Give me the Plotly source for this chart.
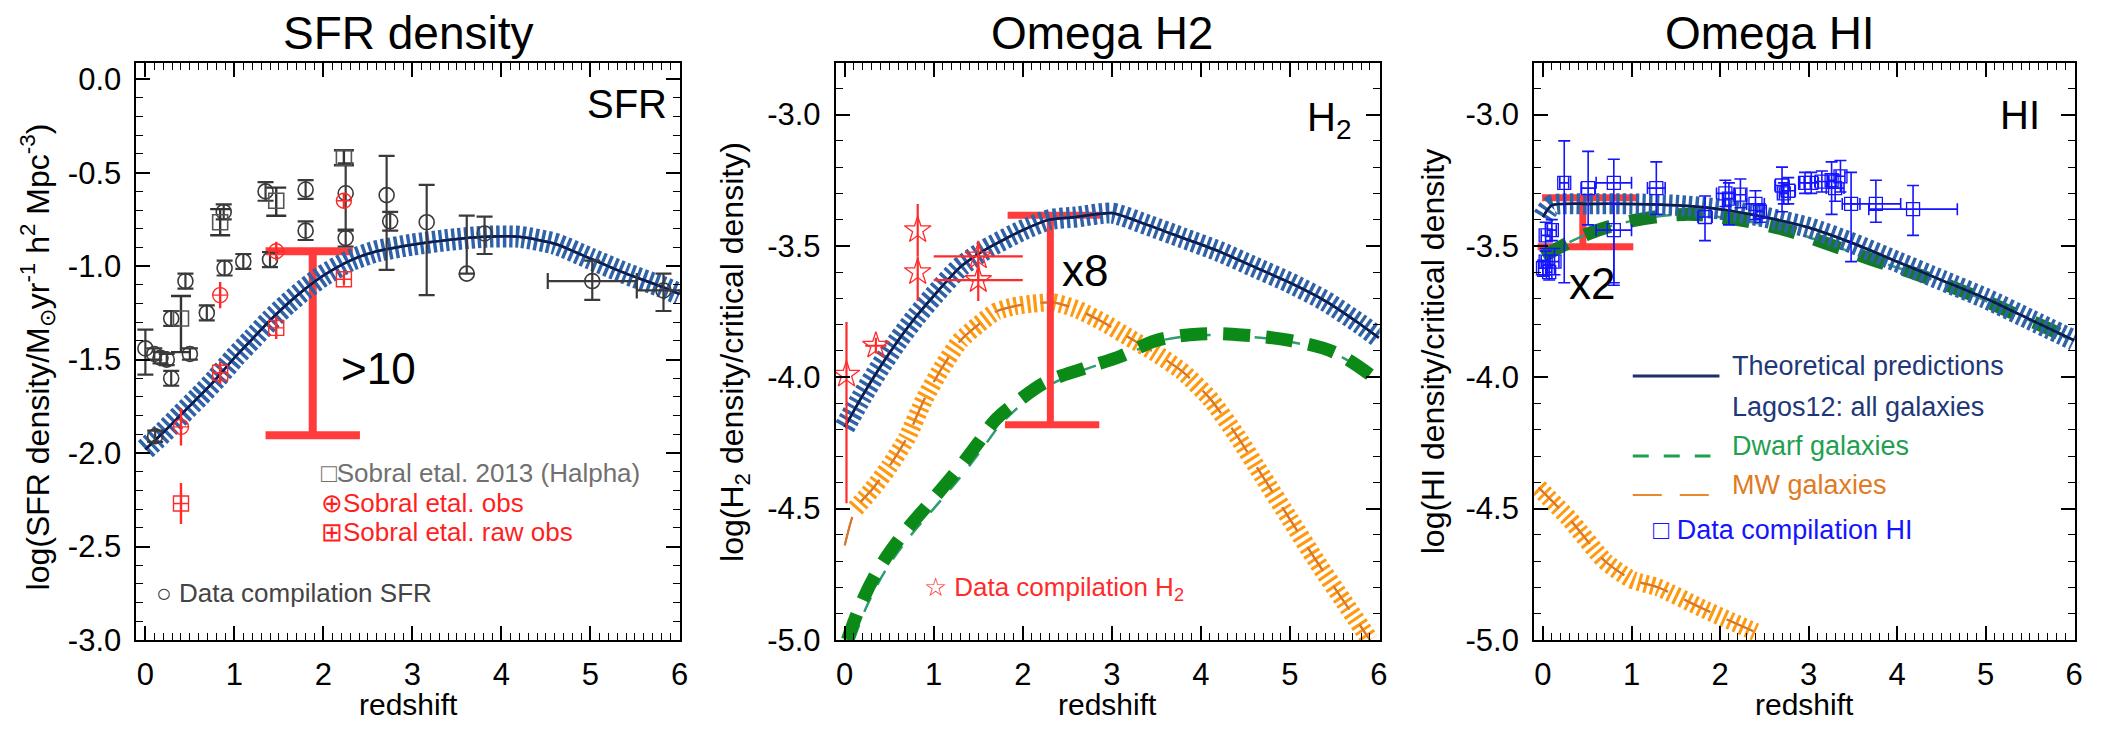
import numpy as np
import plotly.graph_objects as go

W, H = 2103, 736
FONT = "Liberation Sans, Arial, Helvetica, sans-serif"

# ======================= SFR density panel =======================
sfr_model_z = [0.0, 0.2, 0.4, 0.6, 0.8, 1.0, 1.2, 1.4, 1.6, 1.8, 2.0, 2.3, 2.6, 3.0, 3.4, 3.8, 4.2, 4.6, 5.0, 5.4, 5.8, 6.0]
sfr_model_v = [-1.98, -1.89, -1.795, -1.70, -1.60, -1.49, -1.39, -1.29, -1.20, -1.12, -1.05, -0.97, -0.92, -0.885, -0.86, -0.843, -0.843, -0.88, -0.96, -1.04, -1.11, -1.15]

comp_sfr_z = [0.00, 0.10, 0.17, 0.24, 0.29, 0.29, 0.11, 0.45, 0.50, 0.69, 0.88, 0.89, 1.10, 1.35, 1.40, 1.80, 1.80, 2.25, 2.25, 2.71, 2.75, 3.16, 3.61, 3.81]
comp_sfr_v = [-1.44, -1.47, -1.49, -1.50, -1.28, -1.60, -1.91, -1.08, -1.47, -1.25, -0.71, -1.01, -0.975, -0.60, -0.965, -0.59, -0.81, -0.61, -0.85, -0.62, -0.76, -0.765, -1.04, -0.825]
comp_sfr_eu = [0.10, 0.03, 0.03, 0.03, 0.04, 0.04, 0.03, 0.04, 0.03, 0.04, 0.04, 0.04, 0.04, 0.05, 0.04, 0.05, 0.05, 0.16, 0.045, 0.21, 0.05, 0.20, 0.31, 0.09]
comp_sfr_ed = [0.14, 0.03, 0.03, 0.03, 0.04, 0.04, 0.03, 0.04, 0.03, 0.04, 0.04, 0.04, 0.04, 0.05, 0.04, 0.05, 0.05, 0.20, 0.045, 0.40, 0.05, 0.39, 0.00, 0.11]
# high-z points with redshift-bin error bars
comp_sfr_hz_z = [5.02, 5.82]
comp_sfr_hz_v = [-1.08, -1.13]
comp_sfr_hz_eu = [0.11, 0.09]
comp_sfr_hz_ed = [0.10, 0.11]
comp_sfr_hz_ex = [0.50, 0.30]

sobral_z = [0.40, 0.84, 1.47, 2.23]
sobral_ha_v = [-1.28, -0.765, -0.65, -0.42]
sobral_ha_eu = [0.12, 0.07, 0.07, 0.04]
sobral_ha_ed = [0.18, 0.07, 0.08, 0.04]
sobral_obs_v = [-1.86, -1.155, -0.92, -0.65]
sobral_obs_e = [0.10, 0.07, 0.05, 0.04]
sobral_raw_v = [-2.27, -1.57, -1.33, -1.07]
sobral_raw_e = [0.11, 0.06, 0.06, 0.03]

# offset bracket: [left, right] of top bar, top value, centre z, [left, right] of bottom bar, bottom value
sfr_br_top_z = [1.35, 2.33]
sfr_br_top_v = -0.92
sfr_br_mid_z = 1.88
sfr_br_bot_z = [1.35, 2.41]
sfr_br_bot_v = -1.905

# ======================= Omega H2 panel =======================
h2_all_z = [0.0, 0.2, 0.4, 0.6, 0.8, 1.0, 1.3, 1.6, 2.0, 2.3, 2.6, 3.0, 3.4, 3.8, 4.2, 4.6, 5.0, 5.4, 5.8, 6.0]
h2_all_v = [-4.19, -4.07, -3.96, -3.86, -3.77, -3.69, -3.58, -3.51, -3.44, -3.40, -3.39, -3.375, -3.42, -3.47, -3.52, -3.58, -3.64, -3.71, -3.80, -3.85]

h2_mw_z = [0.0, 0.12, 0.3, 0.5, 0.7, 0.9, 1.1, 1.3, 1.5, 1.7, 1.9, 2.1, 2.35, 2.6, 2.9, 3.2, 3.5, 3.8, 4.1, 4.4, 4.7, 5.0, 5.3, 5.6, 5.9]
h2_mw_v = [-4.64, -4.50, -4.43, -4.34, -4.23, -4.08, -3.96, -3.86, -3.80, -3.75, -3.73, -3.72, -3.715, -3.74, -3.79, -3.85, -3.91, -3.98, -4.08, -4.22, -4.38, -4.54, -4.70, -4.85, -5.0]

h2_dw_z = [0.03, 0.2, 0.4, 0.65, 0.95, 1.25, 1.5, 1.7, 1.95, 2.25, 2.7, 3.1, 3.5, 4.0, 4.5, 5.0, 5.5, 5.9]
h2_dw_v = [-5.0, -4.85, -4.72, -4.60, -4.48, -4.36, -4.25, -4.16, -4.09, -4.02, -3.965, -3.92, -3.86, -3.835, -3.84, -3.86, -3.905, -3.99]
h2_dw_thin_z = [0.10, 0.25, 0.45, 0.70, 1.00, 1.30, 1.55, 1.75, 2.00, 2.30, 2.70, 3.10, 3.50, 4.00, 4.50, 5.00, 5.50, 5.90]
h2_dw_thin_v = [-5.0, -4.87, -4.74, -4.62, -4.50, -4.38, -4.27, -4.18, -4.10, -4.03, -3.97, -3.925, -3.865, -3.84, -3.845, -3.865, -3.91, -3.99]

h2_obs_z = [0.02, 0.35, 0.82, 0.82, 1.50, 1.50]
h2_obs_v = [-3.99, -3.88, -3.44, -3.60, -3.54, -3.63]
h2_obs_eu = [0.20, 0.03, 0.10, 0.06, 0.06, 0.06]
h2_obs_ed = [0.49, 0.03, 0.10, 0.11, 0.09, 0.08]
h2_obs_ex = [0.0, 0.12, 0.0, 0.0, 0.5, 0.5]

h2_br_top_z = [1.83, 2.88]
h2_br_top_v = -3.383
h2_br_mid_z = 2.31
h2_br_bot_z = [1.80, 2.86]
h2_br_bot_v = -4.181

# ======================= Omega HI panel =======================
hi_all_z = [0.0, 0.1, 0.5, 1.0, 1.5, 2.0, 2.5, 3.0, 3.5, 4.0, 4.5, 5.0, 5.5, 6.0]
hi_all_v = [-3.39, -3.345, -3.34, -3.34, -3.345, -3.36, -3.39, -3.43, -3.49, -3.56, -3.63, -3.70, -3.78, -3.86]

hi_dw_z = [0.0, 0.5, 1.0, 1.6, 2.1, 2.7, 3.2, 3.7, 4.2, 4.8, 5.3, 5.8, 6.0]
hi_dw_v = [-3.54, -3.455, -3.405, -3.38, -3.395, -3.435, -3.49, -3.55, -3.605, -3.68, -3.755, -3.83, -3.87]

hi_mw_z = [-0.05, 0.3, 0.7, 1.0, 1.3, 1.8, 2.4]
hi_mw_v = [-4.42, -4.54, -4.70, -4.77, -4.80, -4.88, -4.97]

hi_obs_z = [0.00, 0.03, 0.10, 0.03, 0.13, 0.07, 0.24, 0.51, 0.80, 0.80, 1.28, 1.83, 2.06, 2.10, 2.23, 2.40, 2.45, 2.70, 2.77, 2.72, 2.96, 3.03, 3.15, 3.26, 3.30, 3.36, 3.48, 3.76, 4.18]
hi_obs_v = [-3.585, -3.46, -3.44, -3.56, -3.56, -3.60, -3.26, -3.28, -3.26, -3.44, -3.28, -3.39, -3.30, -3.32, -3.305, -3.34, -3.37, -3.27, -3.29, -3.30, -3.26, -3.26, -3.255, -3.25, -3.28, -3.235, -3.34, -3.34, -3.36]
hi_obs_eu = [0.03, 0.05, 0.04, 0.04, 0.05, 0.03, 0.16, 0.14, 0.09, 0.10, 0.10, 0.08, 0.05, 0.06, 0.06, 0.05, 0.03, 0.07, 0.05, 0.04, 0.04, 0.04, 0.04, 0.07, 0.05, 0.06, 0.12, 0.09, 0.09]
hi_obs_ed = [0.03, 0.05, 0.04, 0.05, 0.05, 0.03, 0.38, 0.14, 0.39, 0.20, 0.10, 0.09, 0.05, 0.10, 0.05, 0.06, 0.04, 0.10, 0.05, 0.04, 0.04, 0.04, 0.04, 0.13, 0.05, 0.06, 0.22, 0.07, 0.10]
hi_obs_ex = [0.05, 0.05, 0.05, 0.05, 0.05, 0.03, 0.05, 0.08, 0.20, 0.20, 0.10, 0.08, 0.10, 0.06, 0.06, 0.10, 0.05, 0.08, 0.08, 0.05, 0.06, 0.08, 0.08, 0.05, 0.10, 0.05, 0.10, 0.28, 0.50]

hi_br_top_z = [-0.01, 1.06]
hi_br_top_v = -3.317
hi_br_mid_z = 0.45
hi_br_bot_z = [-0.06, 1.02]
hi_br_bot_v = -3.503

# tick labels
x_tick_vals = [0, 1, 2, 3, 4, 5, 6]
x_tick_text = ["0", "1", "2", "3", "4", "5", "6"]
sfr_tick_vals = [0.0, -0.5, -1.0, -1.5, -2.0, -2.5, -3.0]
sfr_tick_text = ["0.0", "-0.5", "-1.0", "-1.5", "-2.0", "-2.5", "-3.0"]
gas_tick_vals = [-3.0, -3.5, -4.0, -4.5, -5.0]
gas_tick_text = ["-3.0", "-3.5", "-4.0", "-4.5", "-5.0"]

# ======================= styling =======================
BLUE_HATCH = "#2f62a8"
NAVY = "#0b1c50"
ORANGE_HATCH = "#ff9a10"
ORANGE_LINE = "#d8752a"
GREEN_THICK = "#0b8a17"
GREEN_THIN = "#2f9c72"
RED = "#ff3b3b"
DARK = "#3a3a3a"
HI_BLUE = "#1414ff"

domains_px = [(137, 683), (839, 1385), (1540, 2083)]
Y_TOP, Y_BOT = 64, 656


def px(xp):
    return xp / W


def py(yp):
    return 1 - yp / H


fig = go.Figure()


def add_hatched(xs, ys, ax, color, center_color, width, dash, center_width=2.5, center_dash="solid", center_xs=None, center_ys=None):
    xa, ya = ax
    cx = xs if center_xs is None else center_xs
    cy = ys if center_ys is None else center_ys
    fig.add_trace(go.Scatter(x=cx, y=cy, mode="lines", xaxis=xa, yaxis=ya, showlegend=False,
                             line=dict(color=center_color, width=center_width, dash=center_dash, shape="spline", smoothing=0.6)))
    fig.add_trace(go.Scatter(x=xs, y=ys, mode="lines", xaxis=xa, yaxis=ya, showlegend=False,
                             line=dict(color=color, width=width, dash=dash, shape="spline", smoothing=0.6)))
    fig.add_trace(go.Scatter(x=cx, y=cy, mode="lines", xaxis=xa, yaxis=ya, showlegend=False,
                             line=dict(color=center_color, width=center_width, dash=center_dash, shape="spline", smoothing=0.6)))


def add_bracket(top_z, top_v, mid_z, bot_z, bot_v, ax, width):
    xa, ya = ax
    xs = [top_z[0], top_z[1], None, mid_z, mid_z, None, bot_z[0], bot_z[1]]
    ys = [top_v, top_v, None, top_v, bot_v, None, bot_v, bot_v]
    fig.add_trace(go.Scatter(x=xs, y=ys, mode="lines", xaxis=xa, yaxis=ya, showlegend=False,
                             line=dict(color=RED, width=width)))


def add_points(xs, ys, ax, symbol, color, size, eu=None, ed=None, ex=None, lw=1.5, ebw=2.0, capw=8, ecolor=None):
    xa, ya = ax
    kw = {}
    ec = ecolor or color
    if eu is not None:
        kw["error_y"] = dict(type="data", symmetric=False, array=eu, arrayminus=ed, color=ec, thickness=ebw, width=capw)
    if ex is not None:
        kw["error_x"] = dict(type="data", array=ex, color=ec, thickness=ebw, width=capw)
    fig.add_trace(go.Scatter(x=xs, y=ys, mode="markers", xaxis=xa, yaxis=ya, showlegend=False,
                             marker=dict(symbol=symbol, size=size, color=color, line=dict(color=color, width=lw)), **kw))


P1 = ("x", "y")
P2 = ("x2", "y2")
P3 = ("x3", "y3")

# ---- panel 1 ----
add_bracket(sfr_br_top_z, sfr_br_top_v, sfr_br_mid_z, sfr_br_bot_z, sfr_br_bot_v, P1, 8)
add_hatched(sfr_model_z, sfr_model_v, P1, BLUE_HATCH, NAVY, 22, "3.4px,3px")
add_points(comp_sfr_z, comp_sfr_v, P1, "circle-open", DARK, 15, comp_sfr_eu, comp_sfr_ed, lw=1.6, ebw=2.2, capw=8)
add_points(comp_sfr_hz_z, comp_sfr_hz_v, P1, "circle-open", DARK, 15, comp_sfr_hz_eu, comp_sfr_hz_ed, comp_sfr_hz_ex, lw=1.6, ebw=2.2, capw=8)
add_points(sobral_z, sobral_ha_v, P1, "square-open", "#555555", 15, sobral_ha_eu, sobral_ha_ed, lw=1.6, ebw=2.4, capw=10, ecolor="#333333")
add_points(sobral_z, sobral_obs_v, P1, "circle-cross-open", "#ff2a2a", 15, sobral_obs_e, sobral_obs_e, lw=1.4, ebw=2.4, capw=0)
add_points(sobral_z, sobral_raw_v, P1, "square-cross-open", "#ff2a2a", 15, sobral_raw_e, sobral_raw_e, lw=1.4, ebw=2.4, capw=0)

# ---- panel 2 ----
add_hatched(h2_mw_z[1:], h2_mw_v[1:], P2, ORANGE_HATCH, ORANGE_LINE, 18, "3px,3.6px", center_width=2,
            center_dash="29px,18px", center_xs=h2_mw_z, center_ys=h2_mw_v)
fig.add_trace(go.Scatter(x=h2_dw_thin_z, y=h2_dw_thin_v, mode="lines", xaxis="x2", yaxis="y2", showlegend=False,
                         line=dict(color=GREEN_THIN, width=2.5, dash="16px,14px", shape="spline")))
fig.add_trace(go.Scatter(x=h2_dw_z, y=h2_dw_v, mode="lines", xaxis="x2", yaxis="y2", showlegend=False,
                         line=dict(color=GREEN_THICK, width=13, dash="27px,16px", shape="spline")))
add_bracket(h2_br_top_z, h2_br_top_v, h2_br_mid_z, h2_br_bot_z, h2_br_bot_v, P2, 7)
add_hatched(h2_all_z, h2_all_v, P2, BLUE_HATCH, NAVY, 21, "3.4px,3.2px")
add_points(h2_obs_z, h2_obs_v, P2, "star-open", "#ff2a2a", 20, h2_obs_eu, h2_obs_ed, h2_obs_ex, lw=1.3, ebw=2.2, capw=0)

# ---- panel 3 ----
add_hatched(hi_mw_z, hi_mw_v, P3, ORANGE_HATCH, ORANGE_LINE, 18, "3px,3.6px", center_width=2, center_dash="29px,18px")
add_bracket(hi_br_top_z, hi_br_top_v, hi_br_mid_z, hi_br_bot_z, hi_br_bot_v, P3, 7)
fig.add_trace(go.Scatter(x=hi_dw_z, y=hi_dw_v, mode="lines", xaxis="x3", yaxis="y3", showlegend=False,
                         line=dict(color=GREEN_THIN, width=2.5, dash="16px,14px", shape="spline")))
fig.add_trace(go.Scatter(x=hi_dw_z, y=hi_dw_v, mode="lines", xaxis="x3", yaxis="y3", showlegend=False,
                         line=dict(color="#137a26", width=13, dash="27px,20px", shape="spline")))
add_hatched(hi_all_z, hi_all_v, P3, BLUE_HATCH, NAVY, 21, "3.4px,3.2px")
add_points(hi_obs_z, hi_obs_v, P3, "square-open", HI_BLUE, 13, hi_obs_eu, hi_obs_ed, hi_obs_ex, lw=1.3, ebw=1.6, capw=6)

# ======================= axes =======================
x_minor = [round(v, 2) for v in np.arange(-0.1, 6.001, 0.1)]
sfr_minor = [round(v, 2) for v in np.arange(-3.0, 0.09, 0.1)]
gas_minor = [round(v, 2) for v in np.arange(-5.0, -2.79, 0.1)]

base = dict(showline=True, linecolor="black", linewidth=2, mirror="allticks", ticks="inside",
            ticklen=14, tickwidth=1.8, tickcolor="black", showgrid=False, zeroline=False,
            tickfont=dict(family=FONT, size=31, color="black"), tickmode="array")

layout_axes = {}
for i, (x0, x1) in enumerate(domains_px):
    sfx = "" if i == 0 else str(i + 1)
    layout_axes["xaxis" + sfx] = dict(base, domain=[px(x0), px(x1)], anchor="y" + sfx, range=[-0.1, 6.01],
                                      tickvals=x_tick_vals, ticktext=x_tick_text, ticklabelstandoff=6,
                                      minor=dict(ticks="inside", ticklen=7, tickwidth=1.3, tickcolor="black",
                                                 tickmode="array", tickvals=x_minor, showgrid=False))
    if i == 0:
        yr, tv, tt, mv = [-3.0005, 0.085], sfr_tick_vals, sfr_tick_text, sfr_minor
    else:
        yr, tv, tt, mv = [-5.0005, -2.805], gas_tick_vals, gas_tick_text, gas_minor
    layout_axes["yaxis" + sfx] = dict(base, domain=[py(Y_BOT), py(Y_TOP)], anchor="x" + sfx, range=yr,
                                      tickvals=tv, ticktext=tt, ticklabelstandoff=7,
                                      minor=dict(ticks="inside", ticklen=7, tickwidth=1.3, tickcolor="black",
                                                 tickmode="array", tickvals=mv, showgrid=False))

annotations = []


def ann(text, xp, yp, size, color="black", xanchor="center", yanchor="middle", angle=0):
    annotations.append(dict(text=text, x=px(xp), y=py(yp), xref="paper", yref="paper", showarrow=False,
                            xanchor=xanchor, yanchor=yanchor, textangle=angle,
                            font=dict(family=FONT, size=size, color=color)))


def ann_data(text, xv, yv, ax, size, xanchor="left"):
    annotations.append(dict(text=text, x=xv, y=yv, xref=ax[0], yref=ax[1], showarrow=False,
                            xanchor=xanchor, yanchor="middle", font=dict(family=FONT, size=size, color="black")))


# titles
ann("SFR density", 410, 33, 46)
ann("Omega H2", 1106, 33, 46)
ann("Omega HI", 1777, 33, 46)
# x titles
for x0, x1 in domains_px:
    ann("redshift", (x0 + x1) / 2, 741, 30, yanchor="bottom")
# y titles
ann("log(SFR density/M<sub>⊙</sub>yr<sup>-1</sup> h<sup>2</sup> Mpc<sup>-3</sup>)", 38, 365, 32, angle=-90)
ann("log(H<sub>2</sub> density/critical density)", 738, 360, 32, angle=-90)
ann("log(HI density/critical density", 1438, 360, 32, angle=-90)
# panel labels
ann("SFR", 672, 106, 40, xanchor="right")
ann("H<sub>2</sub>", 1358, 122, 40, xanchor="right")
ann("HI", 2050, 117, 40, xanchor="right")
# bracket factors
ann_data(">10", 2.18, -1.545, P1, 44)
ann_data("x8", 2.42, -3.595, P2, 44)
ann_data("x2", 0.27, -3.644, P3, 44)
# panel 1 legend
ann("□Sobral etal. 2013 (Halpha)", 320, 484, 26, color="#707070", xanchor="left")
ann("⊕Sobral etal. obs", 320, 515, 26, color="#ff1f1f", xanchor="left")
ann("⊞Sobral etal. raw obs", 320, 545, 26, color="#ff1f1f", xanchor="left")
ann("○ Data compilation SFR", 155, 608, 26, color="#444444", xanchor="left")
# panel 2 legend
ann("☆ Data compilation H<sub>2</sub>", 926, 603, 26, color="#ff2a2a", xanchor="left")
# panel 3 legend
ann("Theoretical predictions", 1737, 375, 27, color="#1f3877", xanchor="left")
ann("Lagos12: all galaxies", 1737, 417, 27, color="#1f3877", xanchor="left")
ann("Dwarf galaxies", 1737, 457, 27, color="#1fa050", xanchor="left")
ann("MW galaxies", 1737, 497, 27, color="#e07b1f", xanchor="left")
ann("□ Data compilation HI", 1657, 543, 27, color=HI_BLUE, xanchor="left")

shapes = [
    dict(type="line", xref="paper", yref="paper", x0=px(1639), x1=px(1726), y0=py(385), y1=py(385),
         line=dict(color="#1b2f6b", width=3)),
    dict(type="line", xref="paper", yref="paper", x0=px(1639), x1=px(1717), y0=py(467), y1=py(467),
         line=dict(color="#1fa050", width=3, dash="16px,15px")),
    dict(type="line", xref="paper", yref="paper", x0=px(1639), x1=px(1717), y0=py(507), y1=py(507),
         line=dict(color="#e8892e", width=2, dash="29px,18px")),
]

fig.update_layout(width=W, height=H, margin=dict(l=0, r=0, t=0, b=0), paper_bgcolor="white",
                  plot_bgcolor="white", showlegend=False, annotations=annotations, shapes=shapes,
                  font=dict(family=FONT), **layout_axes)

fig.write_html("out.html")
